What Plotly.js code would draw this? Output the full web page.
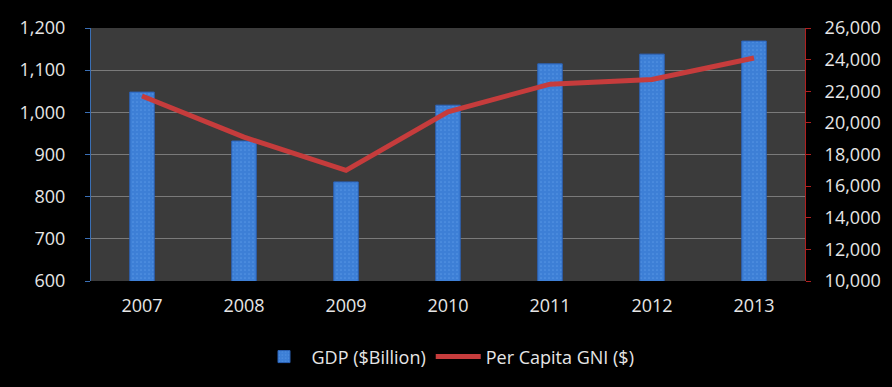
<!DOCTYPE html>
<html><head><meta charset="utf-8">
<script src="https://cdn.plot.ly/plotly-3.0.1.min.js"></script>
<style>html,body{margin:0;padding:0;background:#000;}#chart{width:892px;height:387px;}</style>
</head><body><div id="chart"></div>
<script>
const years = ['2007','2008','2009','2010','2011','2012','2013'];
const gdp = [1048, 932, 835, 1017, 1115, 1138, 1169];
const gni = [21700, 19100, 17000, 20700, 22450, 22750, 24100];

const traces = [
  {type:'bar', x:years, y:gdp, name:'GDP ($Billion)', width:0.24,
   marker:{color:'#3d7fd6', line:{color:'#2b62b8', width:1},
           pattern:{shape:'.', fgcolor:'#6aa8f0', size:4, solidity:0.15, fillmode:'overlay'}}},
  {type:'scatter', mode:'lines', x:years, y:gni, name:'Per Capita GNI ($)', yaxis:'y2',
   line:{color:'#c63c3c', width:5}}
];
const layout = {
  width:892, height:387,
  paper_bgcolor:'#000', plot_bgcolor:'#3b3b3b',
  margin:{l:91, r:87, t:28, b:106},
  font:{family:'Open Sans, Lato, sans-serif', size:18, color:'#e6e6e6'},
  showlegend:true,
  legend:{orientation:'h', x:0.5, xanchor:'center', y:-0.30, yanchor:'middle',
          font:{size:18, color:'#e6e6e6'}, bgcolor:'rgba(0,0,0,0)', itemwidth:45},
  xaxis:{type:'category', showgrid:false, showline:false, ticks:'', tickfont:{size:18}, ticklabelstandoff:12},
  yaxis:{range:[600,1200], dtick:100, tickformat:',', showgrid:true, gridcolor:'#7a7a7a', gridwidth:1,
         showline:true, linecolor:'#3a6fb5', linewidth:1, ticks:'outside', ticklen:5, tickcolor:'#3a6fb5',
         tickfont:{size:18}, zeroline:false, ticklabelstandoff:16},
  yaxis2:{range:[10000,26000], dtick:2000, tickformat:',', overlaying:'y', side:'right', showgrid:false,
          showline:true, linecolor:'#b02020', linewidth:1, ticks:'outside', ticklen:5, tickcolor:'#b02020',
          tickfont:{size:18}, zeroline:false, ticklabelstandoff:10},
  bargap:0.76
};
Plotly.newPlot('chart', traces, layout, {displayModeBar:false, staticPlot:true});
</script></body></html>
